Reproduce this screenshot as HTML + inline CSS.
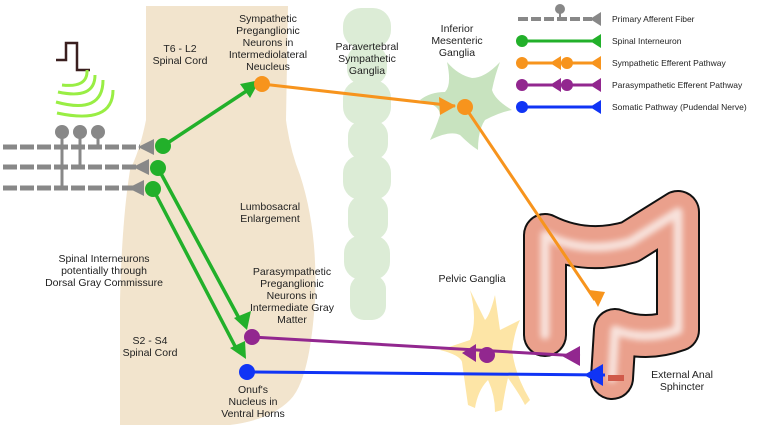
<html><body style="margin:0;background:#fff">
<svg width="764" height="433" viewBox="0 0 764 433" xmlns="http://www.w3.org/2000/svg" font-family="Liberation Sans, sans-serif" font-size="10.5" fill="#222">
<defs>
<filter id="bl"><feGaussianBlur stdDeviation="3"/></filter>
</defs>
<!-- spinal cord -->
<path d="M146,6 L288,6 L286,120 Q290,150 300,175 Q318,230 315,300 Q310,380 290,400 Q270,420 230,425 L120,425 L120,300 Q122,220 130,170 Q140,150 146,120 Z" fill="#f2e4cd"/>
<!-- paravertebral chain -->
<g fill="#dcecd6">
<rect x="343" y="8" width="48" height="40" rx="18"/><rect x="347" y="45" width="40" height="40" rx="16"/><rect x="343" y="80" width="48" height="45" rx="18"/><rect x="348" y="120" width="40" height="40" rx="16"/><rect x="343" y="155" width="48" height="45" rx="18"/><rect x="348" y="195" width="40" height="45" rx="16"/><rect x="344" y="235" width="46" height="45" rx="18"/><rect x="350" y="275" width="36" height="45" rx="14"/>
</g>
<!-- inferior mesenteric ganglion -->
<path d="M447,62 Q452,85 445,92 Q430,92 420,100 Q440,105 440,115 Q435,130 430,140 Q450,130 460,135 Q470,145 478,150 Q478,130 485,120 Q500,112 512,110 Q495,100 492,90 Q495,75 500,62 Q485,78 472,78 Q458,75 447,62 Z" fill="#c8e3bf"/>
<!-- pelvic ganglia -->
<path d="M470,290 Q478,320 470,340 Q455,345 440,350 Q460,355 462,362 L468,405 L475,408 Q478,390 488,380 Q495,395 495,412 L502,410 Q505,390 508,378 Q520,395 525,405 L530,400 Q515,375 512,350 Q515,330 520,320 Q510,325 500,330 L495,295 Q490,315 485,320 Z" fill="#fde5a6"/>
<!-- colon -->
<g fill="none" stroke-linecap="round" stroke-linejoin="round">
<path id="c" d="M545,335 L545,235 Q585,255 630,242 L678,212 L678,330 Q645,342 615,330 L612,378" stroke="#111" stroke-width="44"/>
<path d="M545,335 L545,235 Q585,255 630,242 L678,212 L678,330 Q645,342 615,330 L612,378" stroke="#eaa08c" stroke-width="40"/>
<path d="M545,335 L545,235 Q585,255 630,242 L678,212 L678,330 Q645,342 615,330 L612,378" stroke="#f8e2dc" stroke-width="9" filter="url(#bl)"/>
</g>
<rect x="608" y="375" width="16" height="6" fill="#d05a4a"/>
<!-- afferent grey fibers -->
<g stroke="#888" stroke-width="5" stroke-dasharray="14,3">
<line x1="3" y1="147" x2="140" y2="147"/><line x1="3" y1="167" x2="140" y2="167"/><line x1="3" y1="188" x2="140" y2="188"/>
</g>
<g stroke="#888" stroke-width="3"><line x1="62" y1="133" x2="62" y2="188"/><line x1="80" y1="133" x2="80" y2="167"/><line x1="98" y1="133" x2="98" y2="147"/></g>
<g fill="#888"><circle cx="62" cy="132" r="7"/><circle cx="80" cy="132" r="7"/><circle cx="98" cy="132" r="7"/>
<polygon points="154,139 154,155 138,147"/><polygon points="149,159 149,175 133,167"/><polygon points="144,180 144,196 128,188"/></g>
<!-- stimulus -->
<path d="M56,60 L66,60 L66,43 L77,43 L77,70 L90,70" stroke="#3a1f1f" stroke-width="2.5" fill="none"/>
<g stroke="#99ee44" stroke-width="3" fill="none">
<path d="M87,70 Q88,88 62,85"/><path d="M95,75 Q95,100 58,92"/><path d="M103,80 Q103,115 56,102"/><path d="M113,90 Q113,125 57,113"/>
</g>
<!-- green interneurons -->
<g stroke="#22b02a" stroke-width="3.5"><line x1="163" y1="146" x2="248" y2="90"/><line x1="158" y1="168" x2="240" y2="320"/><line x1="153" y1="189" x2="236" y2="348"/></g>
<g fill="#22b02a"><circle cx="163" cy="146" r="8"/><circle cx="158" cy="168" r="8"/><circle cx="153" cy="189" r="8"/>
<polygon points="260,80 240,84 250,98"/><polygon points="247,330 234,318 251,311"/><polygon points="246,359 230,348 245,341"/></g>
<!-- orange -->
<g stroke="#f7941d" stroke-width="3"><line x1="262" y1="84" x2="455" y2="106"/><line x1="465" y1="107" x2="595" y2="300"/></g>
<g fill="#f7941d"><circle cx="262" cy="84" r="8"/><circle cx="465" cy="107" r="8"/>
<polygon points="456,106 439,97 440,115"/><polygon points="598,307 589,290 605,292"/></g>
<!-- purple -->
<g stroke="#92278f" stroke-width="3"><line x1="252" y1="337" x2="580" y2="356"/></g>
<g fill="#92278f"><circle cx="252" cy="337" r="8"/><circle cx="487" cy="355" r="8"/>
<polygon points="462,353 476,344 476,362"/><polygon points="562,356 580,346 580,366"/></g>
<!-- blue -->
<line x1="247" y1="372" x2="605" y2="375" stroke="#1034f5" stroke-width="3"/>
<circle cx="247" cy="372" r="8" fill="#1034f5"/><polygon points="584,375 603,364 603,386" fill="#1034f5"/>
<!-- labels -->
<g text-anchor="middle">
<text x="180" y="52">T6 - L2</text><text x="180" y="64">Spinal Cord</text>
<text x="268" y="22">Sympathetic</text><text x="268" y="34">Preganglionic</text><text x="268" y="46">Neurons in</text><text x="268" y="58">Intermediolateral</text><text x="268" y="70">Neucleus</text>
<text x="367" y="50">Paravertebral</text><text x="367" y="62">Sympathetic</text><text x="367" y="74">Ganglia</text>
<text x="457" y="32">Inferior</text><text x="457" y="44">Mesenteric</text><text x="457" y="56">Ganglia</text>
<text x="270" y="210">Lumbosacral</text><text x="270" y="222">Enlargement</text>
<text x="104" y="262">Spinal Interneurons</text><text x="104" y="274">potentially through</text><text x="104" y="286">Dorsal Gray Commissure</text>
<text x="292" y="275">Parasympathetic</text><text x="292" y="287">Preganglionic</text><text x="292" y="299">Neurons in</text><text x="292" y="311">Intermediate Gray</text><text x="292" y="323">Matter</text>
<text x="472" y="282">Pelvic Ganglia</text>
<text x="150" y="344">S2 - S4</text><text x="150" y="356">Spinal Cord</text>
<text x="253" y="393">Onuf's</text><text x="253" y="405">Nucleus in</text><text x="253" y="417">Ventral Horns</text>
<text x="682" y="378">External Anal</text><text x="682" y="390">Sphincter</text>
</g>
<!-- legend -->
<g font-size="8.5">
<g stroke="#888" stroke-width="4" stroke-dasharray="10,3"><line x1="518" y1="19" x2="592" y2="19"/></g>
<line x1="560" y1="10" x2="560" y2="19" stroke="#888" stroke-width="2"/><circle cx="560" cy="9" r="5" fill="#888"/>
<polygon points="590,19 601,12 601,26" fill="#888"/><text x="612" y="22">Primary Afferent Fiber</text>
<line x1="522" y1="41" x2="596" y2="41" stroke="#22b02a" stroke-width="3"/><circle cx="522" cy="41" r="6" fill="#22b02a"/><polygon points="590,41 601,34 601,48" fill="#22b02a"/><text x="612" y="44">Spinal Interneuron</text>
<line x1="522" y1="63" x2="596" y2="63" stroke="#f7941d" stroke-width="3"/><circle cx="522" cy="63" r="6" fill="#f7941d"/><circle cx="567" cy="63" r="6" fill="#f7941d"/><polygon points="550,63 561,56 561,70" fill="#f7941d"/><polygon points="590,63 601,56 601,70" fill="#f7941d"/><text x="612" y="66">Sympathetic Efferent Pathway</text>
<line x1="522" y1="85" x2="596" y2="85" stroke="#92278f" stroke-width="3"/><circle cx="522" cy="85" r="6" fill="#92278f"/><circle cx="567" cy="85" r="6" fill="#92278f"/><polygon points="550,85 561,78 561,92" fill="#92278f"/><polygon points="590,85 601,78 601,92" fill="#92278f"/><text x="612" y="88">Parasympathetic Efferent Pathway</text>
<line x1="522" y1="107" x2="596" y2="107" stroke="#1034f5" stroke-width="3"/><circle cx="522" cy="107" r="6" fill="#1034f5"/><polygon points="590,107 601,100 601,114" fill="#1034f5"/><text x="612" y="110">Somatic Pathway (Pudendal Nerve)</text>
</g>
</svg>
</body></html>
